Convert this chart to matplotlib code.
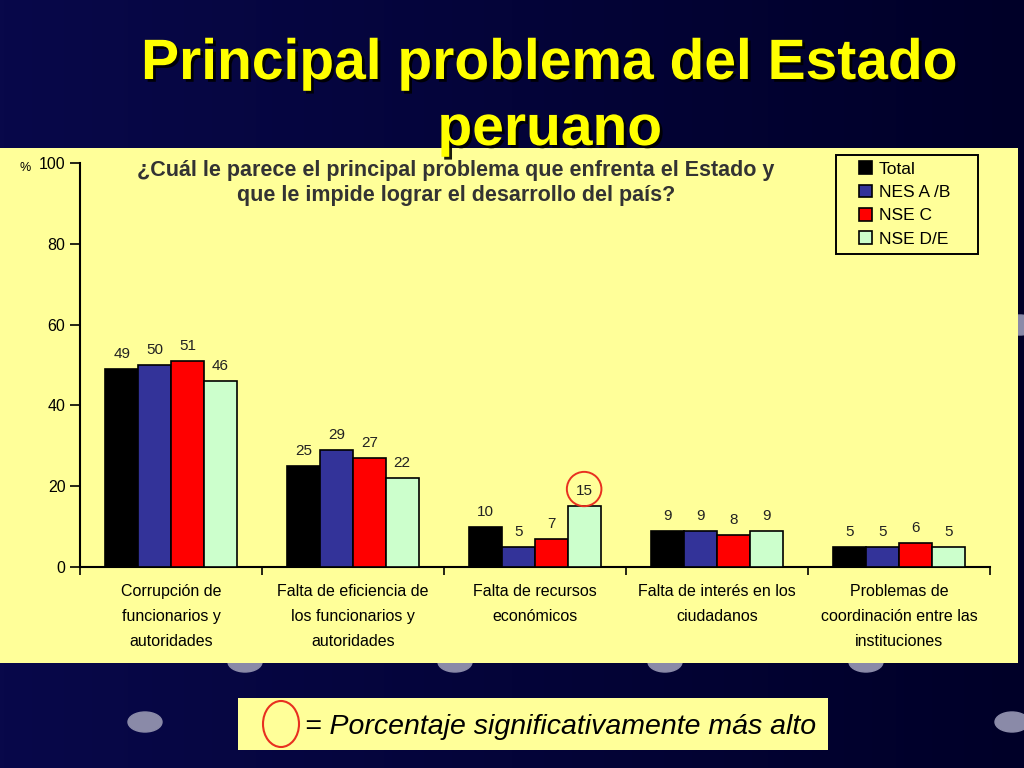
import numpy as np
import matplotlib.pyplot as plt
import matplotlib.patheffects as pe
from matplotlib.colors import LinearSegmentedColormap
from matplotlib.patches import Rectangle, Ellipse

plt.rcParams['font.family'] = ['Liberation Sans', 'DejaVu Sans']

# data
categories = ['Corrupción de\nfuncionarios y\nautoridades',
              'Falta de eficiencia de\nlos funcionarios y\nautoridades',
              'Falta de recursos\neconómicos',
              'Falta de interés en los\nciudadanos',
              'Problemas de\ncoordinación entre las\ninstituciones']
series_names = ['Total', 'NES A /B', 'NSE C', 'NSE D/E']
total = [49, 25, 10, 9, 5]
nes_ab = [50, 29, 5, 9, 5]
nse_c = [51, 27, 7, 8, 6]
nse_de = [46, 22, 15, 9, 5]
series = [total, nes_ab, nse_c, nse_de]
colors = ['#000000', '#333399', '#ff0000', '#ccffcc']
yticks = [0, 20, 40, 60, 80, 100]

W, H = 1024, 768
fig = plt.figure(figsize=(W / 100, H / 100), dpi=100)
fig.patch.set_facecolor('#06063f')

def fx(px):
    return px / W

def fy(py):
    return 1 - py / H

# background gradient, dots and yellow panels
bg = fig.add_axes([0, 0, 1, 1], zorder=-10)
grad = np.linspace(0, 1, 256).reshape(1, -1)
bg.imshow(grad, aspect='auto', cmap=LinearSegmentedColormap.from_list('bg', ['#08084a', '#000028']),
          extent=[0, 1, 0, 1], zorder=0)
bg.set_xlim(0, 1)
bg.set_ylim(0, 1)
bg.axis('off')
for (px, py) in [(245, 662), (455, 662), (665, 662), (866, 662), (145, 722), (1012, 722), (1020, 325)]:
    bg.add_patch(Ellipse((fx(px), fy(py)), 34 / W, 20 / H, color='#8a8aa8', zorder=1))
bg.add_patch(Rectangle((0, fy(663)), fx(1018), fy(148) - fy(663), facecolor='#ffff99',
                       edgecolor='none', zorder=2))
bg.add_patch(Rectangle((fx(238), fy(750)), fx(828) - fx(238), fy(698) - fy(750),
                       facecolor='#ffff99', edgecolor='none', zorder=2))
bg.add_patch(Ellipse((fx(281), fy(724)), 36 / W, 46 / H, fill=False, edgecolor='#e83020',
                     linewidth=1.5, zorder=3))
# legend frame
bg.add_patch(Rectangle((fx(836), fy(254)), fx(978) - fx(836), fy(155) - fy(254),
                       facecolor='none', edgecolor='black', linewidth=1.4, zorder=3))

# title
shadow = [pe.withSimplePatchShadow(offset=(2, -2), shadow_rgbFace='#000000', alpha=0.9)]
fig.text(0.537, fy(64), 'Principal problema del Estado', ha='center', va='center',
         color='#ffff00', fontsize=41, fontweight='bold', path_effects=shadow)
fig.text(0.537, fy(130), 'peruano', ha='center', va='center',
         color='#ffff00', fontsize=41, fontweight='bold', path_effects=shadow)

ax = fig.add_axes([fx(80), fy(567), fx(990) - fx(80), fy(163) - fy(567)])
ax.set_facecolor('none')
x = np.arange(len(categories))
bw = 0.18
for i, (vals, name, c) in enumerate(zip(series, series_names, colors)):
    pos = x + (i - 1.5) * bw
    ax.bar(pos, vals, bw, color=c, edgecolor='black', linewidth=1.2, label=name, zorder=3)
    for p, v in zip(pos, vals):
        ax.text(p, v + 2, str(v), ha='center', va='bottom', fontsize=11, color='#222222')

# highlight circle on significant value
ax.add_patch(Ellipse((x[2] + 1.5 * bw, nse_de[2] + 4.3), 0.19, 8.5, fill=False,
                     edgecolor='#e83020', linewidth=1.4, zorder=4))

ax.set_xlim(-0.5, len(categories) - 0.5)
ax.set_ylim(0, 100)
ax.set_yticks(yticks)
ax.set_yticklabels(yticks, fontsize=11.5)
ax.set_xticks(np.arange(len(categories) + 1) - 0.5)
ax.set_xticklabels([])
ax.tick_params(axis='both', direction='out', length=6, width=1.2, colors='black')
ax.tick_params(axis='y', length=7)
for s in ['top', 'right']:
    ax.spines[s].set_visible(False)
ax.spines['left'].set_linewidth(1.5)
ax.spines['bottom'].set_linewidth(1.5)
for xi, lab in zip(x, categories):
    ax.text(xi, -4.3, lab, ha='center', va='top', fontsize=11.5, linespacing=1.8)
fig.text(fx(20), fy(168), '%', fontsize=9, ha='left', va='center')

# question
fig.text(fx(456), fy(183), '¿Cuál le parece el principal problema que enfrenta el Estado y\nque le impide lograr el desarrollo del país?',
         ha='center', va='center', fontsize=15.5, fontweight='bold', color='#333333', linespacing=1.25)

leg = ax.legend(loc='upper left', bbox_to_anchor=((856 - 80) / (990 - 80), (567 - 158) / 404),
                frameon=False, fontsize=12.5, handlelength=0.75, handleheight=0.75,
                handletextpad=0.35, labelspacing=0.45, borderpad=0.2, borderaxespad=0)

# bottom key text
fig.text(fx(305), fy(727), '= Porcentaje significativamente más alto', ha='left', va='center',
         fontsize=20.5, style='italic')

fig.savefig('out.png', dpi=100, facecolor=fig.get_facecolor())
